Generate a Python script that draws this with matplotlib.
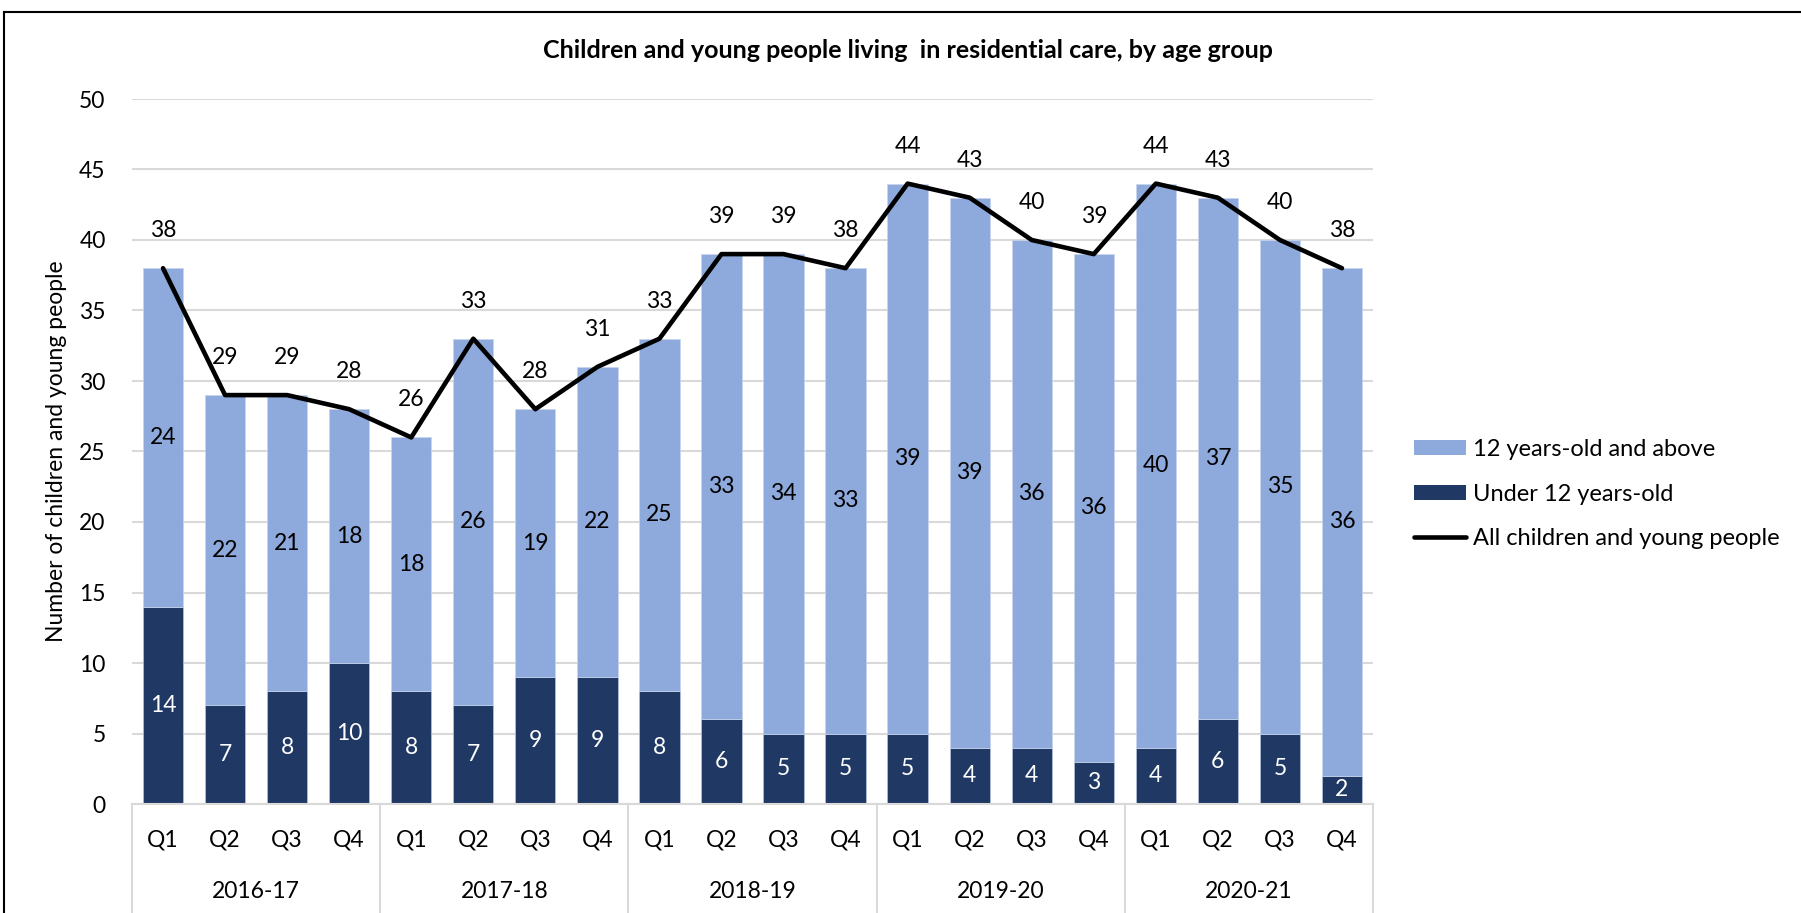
import matplotlib
matplotlib.use("Agg")
import matplotlib.pyplot as plt
from matplotlib.lines import Line2D
from matplotlib.patches import Patch
import numpy as np

plt.rcParams['font.family'] = ['Lato', 'DejaVu Sans']

years = ["2016-17", "2017-18", "2018-19", "2019-20", "2020-21"]
quarters = ["Q1", "Q2", "Q3", "Q4"]
under_12 = [14, 7, 8, 10, 8, 7, 9, 9, 8, 6, 5, 5, 5, 4, 4, 3, 4, 6, 5, 2]
over_12 = [24, 22, 21, 18, 18, 26, 19, 22, 25, 33, 34, 33, 39, 39, 36, 36, 40, 37, 35, 36]
total = [38, 29, 29, 28, 26, 33, 28, 31, 33, 39, 39, 38, 44, 43, 40, 39, 44, 43, 40, 38]

DARK = "#203864"
LIGHT = "#8EA9DB"
GRID = "#D9D9D9"
FS = 16.5

W, H = 1801, 913
fig = plt.figure(figsize=(W / 100, H / 100), dpi=100)
ax = fig.add_axes([132 / W, 1 - 804 / H, (1373 - 132) / W, (804 - 99) / H])

x = np.arange(len(total))
ax.bar(x, under_12, width=0.65, color=DARK, edgecolor="#B4C3DE", linewidth=0.5, zorder=2)
ax.bar(x, over_12, bottom=under_12, width=0.65, color=LIGHT, edgecolor="#C9D5EC",
       linewidth=0.5, zorder=2)
ax.plot(x, total, color="black", lw=3.3, zorder=3, solid_joinstyle="round",
        solid_capstyle="round")

for i in x:
    ax.text(i, under_12[i] / 2, str(under_12[i]), ha="center", va="center",
            color="white", fontsize=FS, zorder=4)
    ax.text(i, under_12[i] + over_12[i] / 2, str(over_12[i]), ha="center", va="center",
            color="black", fontsize=FS, zorder=4)
    ax.annotate(str(total[i]), (i, total[i]), xytext=(0, 27), textcoords="offset points",
                ha="center", va="center", fontsize=FS, zorder=4)

ax.set_xlim(-0.5, len(total) - 0.5)
ax.set_ylim(0, 50)
ax.set_yticks(range(0, 51, 5))
ax.yaxis.grid(True, color=GRID, lw=1.5, zorder=0)
ax.set_axisbelow(True)
ax.tick_params(axis="y", length=0, pad=19, labelsize=FS)
for s in ["top", "right", "left"]:
    ax.spines[s].set_visible(False)
ax.spines["bottom"].set_color(GRID)
ax.spines["bottom"].set_linewidth(1.5)

# two-level category axis
ax.set_xticks(x)
ax.set_xticklabels(quarters * len(years), fontsize=FS)
ax.tick_params(axis="x", length=0, pad=18)
trans = ax.get_xaxis_transform()
for k, yr in enumerate(years):
    ax.text(4 * k + 1.5, -0.124, yr, transform=trans, ha="center", va="center", fontsize=FS)
for k in range(len(years) + 1):
    ax.plot([4 * k - 0.5] * 2, [0, -0.16], transform=trans, color=GRID, lw=1.5,
            clip_on=False)

ax.set_ylabel("Number of children and young people", fontsize=16.5)
ax.yaxis.set_label_coords(-(132 - 67) / (1373 - 132), 0.5)

fig.text(908 / W, 1 - 50 / H, "Children and young people living  in residential care, by age group",
         ha="center", va="center", fontsize=18, fontweight="bold")

handles = [Patch(facecolor=LIGHT), Patch(facecolor=DARK),
           Line2D([], [], color="black", lw=3.3, solid_capstyle="round")]
labels = ["12 years-old and above", "Under 12 years-old", "All children and young people"]
fig.legend(handles, labels, loc="center left", bbox_to_anchor=(1414 / W, 1 - 494 / H),
           frameon=False, fontsize=17, handlelength=2.2, handleheight=0.6,
           handletextpad=0.3, labelspacing=1.0, borderpad=0, borderaxespad=0)

# outer frame (partly cut off in the original)
fig.add_artist(Line2D([4 / W, 1], [1 - 12 / H, 1 - 12 / H], color="black", lw=1.5,
                      transform=fig.transFigure))
fig.add_artist(Line2D([4 / W, 4 / W], [0, 1 - 12 / H], color="black", lw=1.5,
                      transform=fig.transFigure))

fig.savefig("out.png", dpi=100)
